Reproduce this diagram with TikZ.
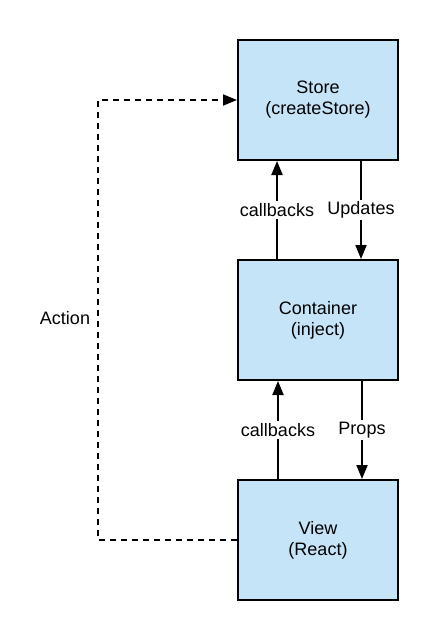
\documentclass[tikz,border=0pt]{standalone}
\usepackage{fontspec}
\setmainfont{Liberation Sans}
\usetikzlibrary{arrows.meta}
\definecolor{boxblue}{HTML}{C6E4F7}

\begin{document}
\begin{tikzpicture}[x=1pt, y=-1pt,
    box/.style={draw, line width=2pt, fill=boxblue, minimum width=160pt, minimum height=120pt, align=center, font=\fontsize{18}{21}\selectfont},
    lbl/.style={fill=white, inner sep=2pt, font=\fontsize{18}{21}\selectfont},
    flow/.style={line width=2pt, -{Triangle[length=14pt, width=11pt]}}]
    \useasboundingbox (0,0) rectangle (438,640);

    % Boxes
    \node[box] (store) at (318,100) {Store\\(createStore)};
    \node[box] (container) at (318,320) {Container\\(inject)};
    \node[box] (view) at (318,540) {View\\(React)};

    % Store <-> Container
    \draw[flow] ([xshift=40pt]container.north west) -- node[lbl] {callbacks} ([xshift=40pt]store.south west);
    \draw[flow] ([xshift=-38pt]store.south east) -- node[lbl] {Updates} ([xshift=-38pt]container.north east);

    % Container <-> View
    \draw[flow] ([xshift=41pt]view.north west) -- node[lbl] {callbacks} ([xshift=41pt]container.south west);
    \draw[flow] ([xshift=-37pt]container.south east) -- node[lbl] {Props} ([xshift=-37pt]view.north east);

    % Action
    \coordinate (bend1) at (98,540);
    \coordinate (bend2) at (98,100);
    \draw[flow, dash pattern=on 6pt off 5pt] (view.west) -- (bend1) -- (bend2) -- (store.west);
    \node[font=\fontsize{18}{21}\selectfont] (action) at (65,318) {Action};
\end{tikzpicture}
\end{document}
